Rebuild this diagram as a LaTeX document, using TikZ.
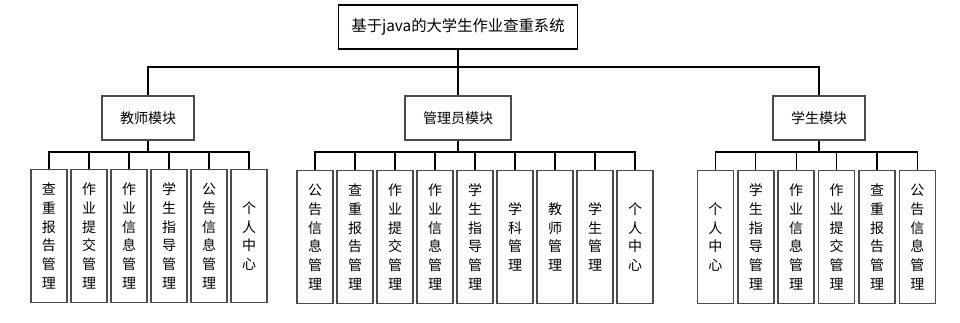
\documentclass[tikz,border=0pt]{standalone}
\usepackage{fontspec}
\setmainfont{Noto Sans CJK SC}
\usetikzlibrary{positioning}

\begin{document}
\begin{tikzpicture}[x=0.75pt, y=-0.75pt,
  every node/.style={font=\fontsize{10.5pt}{14pt}\selectfont},
  rootbox/.style={draw=black, line width=0.9pt, minimum width=179pt, minimum height=33pt,
    font=\fontsize{11.5pt}{14pt}\selectfont},
  modbox/.style={draw=gray!60!black, line width=1.5pt, minimum width=69pt, minimum height=33pt},
  leafbox/.style={draw=gray!60!black, line width=1.1pt, inner sep=0pt, text width=27pt,
    align=center, minimum width=27pt, minimum height=99.5pt},
  link/.style={draw=black, line width=0.8pt}]
  \useasboundingbox (0,0) rectangle (960,322);
  % Root
  \node[rootbox] (sys) at (458,27) {基于java的大学生作业查重系统};
  % Modules
  \node[modbox] (tch) at (148,118) {教师模块};
  \node[modbox, minimum width=79.5pt] (adm) at (458,118) {管理员模块};
  \node[modbox] (stu) at (819,118) {学生模块};
  \coordinate (bus0) at (458,67);
  \draw[link] (sys.south) -- (bus0);
  \draw[link] (tch.north) |- (bus0) -| (stu.north);
  \draw[link] (bus0) -- (adm.north);
  % Teacher leaves
  \foreach \txt [count=\i] in {{查\\重\\报\\告\\管\\理}, {作\\业\\提\\交\\管\\理},
      {作\\业\\信\\息\\管\\理}, {学\\生\\指\\导\\管\\理}, {公\\告\\信\\息\\管\\理},
      {个\\人\\中\\心}}
    \node[leafbox] (t\i) at ({9+40*\i},236) {\txt};
  \coordinate (tbus) at (148,152);
  \draw[link] (tch.south) -- (tbus);
  \foreach \i in {1,...,6}
    \draw[link] (tbus) -| (t\i.north);
  % Admin leaves
  \foreach \txt [count=\i] in {{公\\告\\信\\息\\管\\理}, {查\\重\\报\\告\\管\\理},
      {作\\业\\提\\交\\管\\理}, {作\\业\\信\\息\\管\\理}, {学\\生\\指\\导\\管\\理},
      {学\\科\\管\\理}, {教\\师\\管\\理}, {学\\生\\管\\理}, {个\\人\\中\\心}}
    \node[leafbox] (a\i) at ({275+40*\i},237) {\txt};
  \coordinate (abus) at (458,152);
  \draw[link] (adm.south) -- (abus);
  \foreach \i in {1,...,9}
    \draw[link] (abus) -| (a\i.north);
  % Student leaves
  \foreach \txt [count=\i] in {{个\\人\\中\\心}, {学\\生\\指\\导\\管\\理},
      {作\\业\\信\\息\\管\\理}, {作\\业\\提\\交\\管\\理}, {查\\重\\报\\告\\管\\理},
      {公\\告\\信\\息\\管\\理}}
    \node[leafbox] (s\i) at ({675+40.4*\i},237) {\txt};
  \coordinate (sbus) at (819,152);
  \draw[link, line width=1.2pt] (stu.south) -- (sbus);
  \foreach \i in {1,...,6}
    \draw[link] (sbus) -| (s\i.north);
\end{tikzpicture}
\end{document}
